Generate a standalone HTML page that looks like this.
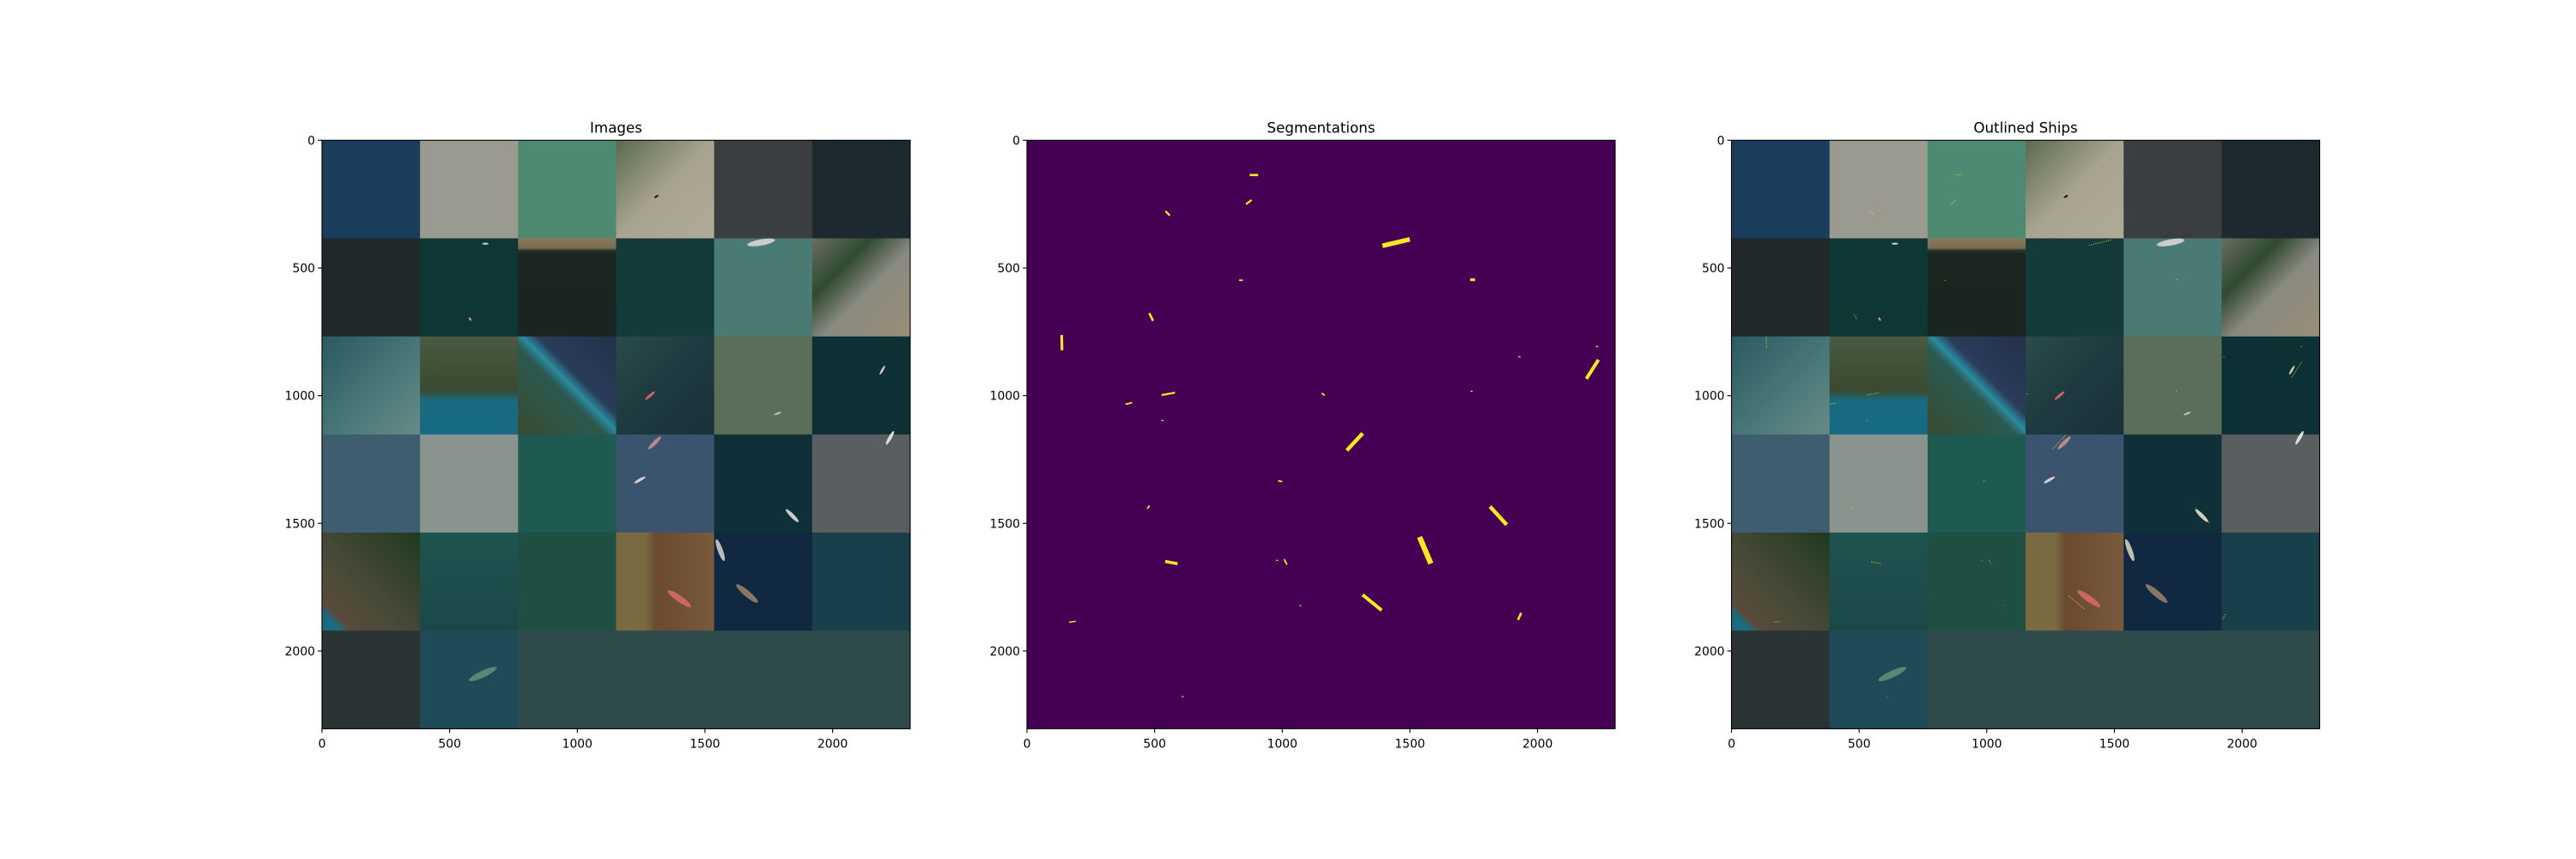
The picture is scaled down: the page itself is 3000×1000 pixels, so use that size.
<!DOCTYPE html>
<html><head><meta charset="utf-8"><style>
html,body{margin:0;padding:0;background:#fff;}
svg{display:block;font-family:"DejaVu Sans","Liberation Sans",sans-serif;}
</style></head><body>
<svg id="fig" width="3000" height="1000" viewBox="0 0 3000 1000" xmlns="http://www.w3.org/2000/svg">
<defs>
<linearGradient id="g-r1c2" x1="0" y1="0" x2="0" y2="1"><stop offset="0" stop-color="#8a7a60"/><stop offset="0.1" stop-color="#7a6a50"/><stop offset="0.12" stop-color="#2a3a28"/><stop offset="0.16" stop-color="#1c2620"/><stop offset="1" stop-color="#1a2420"/></linearGradient>
<linearGradient id="g-r1c5" x1="0" y1="0" x2="1" y2="1"><stop offset="0" stop-color="#6a6e62"/><stop offset="0.3" stop-color="#2f4a30"/><stop offset="0.55" stop-color="#8a8a80"/><stop offset="1" stop-color="#9a8e76"/></linearGradient>
<linearGradient id="g-r2c0" x1="0" y1="0" x2="1" y2="1"><stop offset="0" stop-color="#2a5a60"/><stop offset="0.6" stop-color="#4a7a7a"/><stop offset="1" stop-color="#6a8a86"/></linearGradient>
<linearGradient id="g-r2c1" x1="0" y1="0" x2="0" y2="1"><stop offset="0" stop-color="#4a5a40"/><stop offset="0.55" stop-color="#3a4a30"/><stop offset="0.65" stop-color="#1a6a80"/><stop offset="1" stop-color="#156a82"/></linearGradient>
<linearGradient id="g-r2c2" x1="0" y1="1" x2="1" y2="0"><stop offset="0" stop-color="#3a4a30"/><stop offset="0.45" stop-color="#2a5a50"/><stop offset="0.52" stop-color="#2a8aa0"/><stop offset="0.6" stop-color="#2a3c5a"/><stop offset="1" stop-color="#23304a"/></linearGradient>
<linearGradient id="g-r2c3" x1="0" y1="0" x2="1" y2="1"><stop offset="0" stop-color="#2a4a48"/><stop offset="0.5" stop-color="#1e3a40"/><stop offset="1" stop-color="#1a3038"/></linearGradient>
<linearGradient id="g-r0c3" x1="0" y1="0" x2="1" y2="1"><stop offset="0" stop-color="#5a6a50"/><stop offset="0.5" stop-color="#a8a490"/><stop offset="1" stop-color="#b0aa96"/></linearGradient>
<linearGradient id="g-r4c0" x1="1" y1="0" x2="0" y2="1"><stop offset="0" stop-color="#1f3a20"/><stop offset="0.6" stop-color="#4a4a38"/><stop offset="0.85" stop-color="#5a4a3a"/><stop offset="0.9" stop-color="#1a6a80"/><stop offset="1" stop-color="#1a6a80"/></linearGradient>
<linearGradient id="g-r4c3" x1="0" y1="0" x2="1" y2="0"><stop offset="0" stop-color="#7a6a40"/><stop offset="0.3" stop-color="#7a6a42"/><stop offset="0.4" stop-color="#6a4a30"/><stop offset="1" stop-color="#7a5a3c"/></linearGradient>
<linearGradient id="g-r4c1" x1="0" y1="0" x2="0" y2="1"><stop offset="0" stop-color="#1e5450"/><stop offset="1" stop-color="#1a4848"/></linearGradient>
</defs>
<g id="root"></g>
</svg>
<script>
// ---- data ----
const tileColors = [
 ["#1b3d5c","#9a9a90","#4e8a72","url(#g-r0c3)","#3a3e40","#1c2a30"],
 ["#20282a","#0d3634","url(#g-r1c2)","#153a3c","#4a7a74","url(#g-r1c5)"],
 ["url(#g-r2c0)","url(#g-r2c1)","url(#g-r2c2)","url(#g-r2c3)","#5a6e5a","#0d3034"],
 ["#3e5e70","#8a948e","#1f5a50","#3a5470","#0f3038","#5a5e60"],
 ["url(#g-r4c0)","url(#g-r4c1)","#1f4e42","url(#g-r4c3)","#102840","#17404a"],
 ["#2a3434","#1f4a58","#2f4a4a","#2f4a4a","#2f4a4a","#2f4a4a"]
];
const tileSize = 384;
const extent = 2304;
const tickValues = [0, 500, 1000, 1500, 2000];
const tickLabels = ["0", "500", "1000", "1500", "2000"];
const panelTitles = ["Images", "Segmentations", "Outlined Ships"];
// ship segments (data coords): x1, y1, x2, y2, width
const segX1 = [877,861,545,1401,834,1741,481,136,2195,2231,1927,531,389,1157,1740,529,1258,987,473,1819,1542,547,979,1009,1320,1070,167,1925,609];
const segY1 = [136,248,280,411,548,546,681,768,928,808,848,997,1033,992,983,1097,1209,1334,1440,1440,1563,1650,1645,1643,1784,1822,1887,1874,2178];
const segX2 = [901,877,557,1491,843,1750,492,137,2235,2235,1931,576,409,1164,1743,532,1310,997,478,1874,1578,584,981,1017,1384,1072,189,1934,611];
const segY2 = [136,236,292,390,548,546,703,817,865,808,848,989,1028,997,983,1097,1153,1336,1433,1500,1648,1657,1645,1659,1836,1822,1884,1855,2178];
const segW = [6,5,5,12,4,7,6,7,9,3,3,5,4,4,3,3,10,4,4,10,14,8,3,4,9,3,3,6,3];
// visible ships in the photos (data coords): cx, cy, length, angle, colour
const shipX = [1310,640,1720,580,2225,1303,1842,1560,1400,1665,1245,2195,1785,1285,630];
const shipY = [220,405,400,700,1165,1185,1470,1605,1795,1775,1330,900,1070,1000,2090];
const shipL = [20,25,110,15,60,70,70,90,110,110,50,40,30,50,120];
const shipA = [-30,0,-10,60,-60,-45,45,70,35,40,-30,-60,-20,-40,-25];
const shipC = ["#222","#ccc","#ccc","#c98","#ddd","#b88","#ccc","#bbb","#c66","#876","#dcc","#ccc","#bbb","#c66","#587"];

// ---- layout ----
const panelLeft = [375, 1196, 2016.5];
const axTop = 163.3, axSize = 685;
const root = document.getElementById('root');
const NS = 'http://www.w3.org/2000/svg';
function mk(tag, attrs, parent){const e=document.createElementNS(NS,tag);for(const k in attrs)e.setAttribute(k,attrs[k]);parent.appendChild(e);return e;}

panelLeft.forEach((L, p) => {
  const sx = v => L + v / extent * axSize;
  const sy = v => axTop + v / extent * axSize;
  const k = axSize / extent;
  const g = mk('g', {}, root);
  
  
  if (p === 1) {
    const bg = mk('rect', {x:sx(0), y:sy(0), width:axSize, height:axSize, fill:'#440154'}, g);
    
    
    segX1.forEach((x, i) => {
      const ln = mk('line', {x1:sx(x), y1:sy(segY1[i]), x2:sx(segX2[i]), y2:sy(segY2[i]), stroke:'#fde725', 'stroke-width':Math.max(1.2, segW[i]*k*1.5), 'stroke-linecap':'square'}, g);
      
      
    });
  } else {
    tileColors.forEach((row, r) => row.forEach((c, ci) => {
      const t = mk('rect', {x:sx(ci*tileSize), y:sy(r*tileSize), width:tileSize*k+0.5, height:tileSize*k+0.5, fill:c}, g);
      
      
    }));
    shipX.forEach((x, i) => {
      const s = mk('ellipse', {cx:0, cy:0, rx:shipL[i]*k/2, ry:Math.max(1.2, shipL[i]*k/9), fill:shipC[i], transform:`translate(${sx(x)},${sy(shipY[i])}) rotate(${shipA[i]})`}, g);
      
      
    });
    if (p === 2) {
      segX1.forEach((x, i) => {
        const ln = mk('line', {x1:sx(x), y1:sy(segY1[i]), x2:sx(segX2[i]), y2:sy(segY2[i]), stroke:'#ffff00', 'stroke-width':0.8, 'stroke-dasharray':'1 1.5'}, g);
        
        
      });
    }
  }
  const fr = mk('rect', {x:sx(0), y:sy(0), width:axSize, height:axSize, fill:'none', stroke:'#000', 'stroke-width':1.1}, g);
  
  
  const ti = mk('text', {x:L+axSize/2, y:axTop-9, 'text-anchor':'middle', 'font-size':16.7, fill:'#000'}, g);
  ti.textContent = panelTitles[p];
  
  
  tickValues.forEach((v, i) => {
    mk('line', {x1:sx(v), y1:axTop+axSize, x2:sx(v), y2:axTop+axSize+4.9, stroke:'#000', 'stroke-width':1.1}, g);
    const xl = mk('text', {x:sx(v), y:axTop+axSize+22, 'text-anchor':'middle', 'font-size':13.9, fill:'#000'}, g);
    xl.textContent = tickLabels[i];
    
    
    mk('line', {x1:L, y1:sy(v), x2:L-4.9, y2:sy(v), stroke:'#000', 'stroke-width':1.1}, g);
    const yl = mk('text', {x:L-8, y:sy(v)+5, 'text-anchor':'end', 'font-size':13.9, fill:'#000'}, g);
    yl.textContent = tickLabels[i];
    
    
  });
});
</script>
</body></html>
